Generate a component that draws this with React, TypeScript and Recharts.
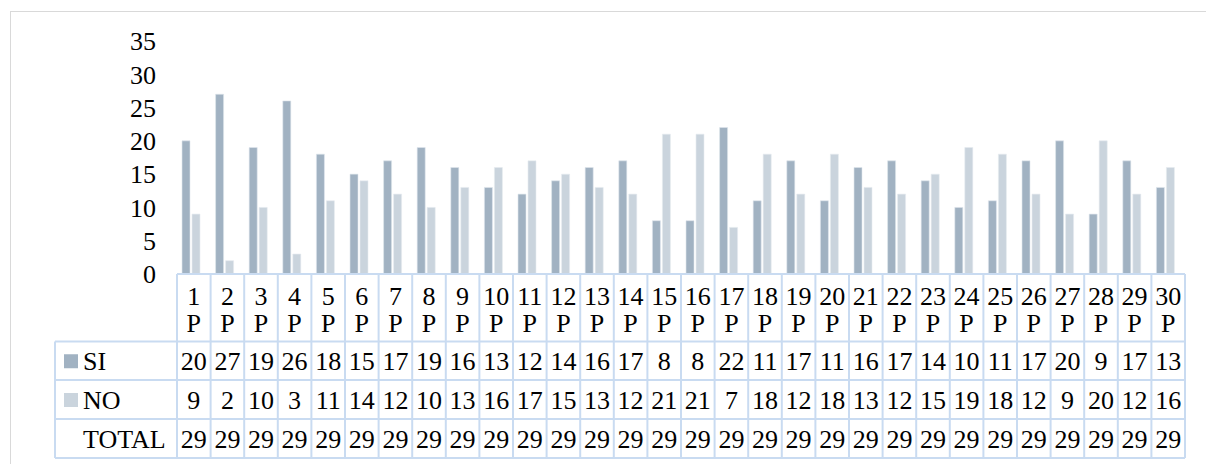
import React from "react";
import { BarChart, Bar, XAxis, YAxis } from "recharts";

const CATEGORIES = [
  "1 P", "2 P", "3 P", "4 P", "5 P", "6 P", "7 P", "8 P", "9 P", "10 P",
  "11 P", "12 P", "13 P", "14 P", "15 P", "16 P", "17 P", "18 P", "19 P", "20 P",
  "21 P", "22 P", "23 P", "24 P", "25 P", "26 P", "27 P", "28 P", "29 P", "30 P",
];
const SI = [20, 27, 19, 26, 18, 15, 17, 19, 16, 13, 12, 14, 16, 17, 8, 8, 22, 11, 17, 11, 16, 17, 14, 10, 11, 17, 20, 9, 17, 13];
const NO = [9, 2, 10, 3, 11, 14, 12, 10, 13, 16, 17, 15, 13, 12, 21, 21, 7, 18, 12, 18, 13, 12, 15, 19, 18, 12, 9, 20, 12, 16];
const TOTAL = [29, 29, 29, 29, 29, 29, 29, 29, 29, 29, 29, 29, 29, 29, 29, 29, 29, 29, 29, 29, 29, 29, 29, 29, 29, 29, 29, 29, 29, 29];
const Y_TICKS = [0, 5, 10, 15, 20, 25, 30, 35];

const SI_COLOR = "#a1b2c2";
const NO_COLOR = "#cad4dd";
const GRID = "#c9dbf1";
const FONT = "Times New Roman, Liberation Serif, DejaVu Serif, serif";

const W = 1206;
const H = 464;

// data table geometry
const TBL_X0 = 177;
const TBL_X1 = 1185;
const LEFT_X = 55;
const ROWS_Y = [274, 341.5, 380, 419, 458];

const data = CATEGORIES.map((name, i) => ({ name, si: SI[i], no: NO[i] }));

const txt = { fontFamily: FONT, fontSize: 26 };

function DataTable() {
  const n = CATEGORIES.length;
  const cw = (TBL_X1 - TBL_X0) / n;
  const rows = [
    { label: "SI", color: SI_COLOR, values: SI },
    { label: "NO", color: NO_COLOR, values: NO },
    { label: "TOTAL", color: null, values: TOTAL },
  ];
  return (
    <svg width={W} height={H} style={{ position: "absolute", left: 0, top: 0 }}>
      {/* horizontal rules */}
      <line x1={TBL_X0} x2={TBL_X1} y1={ROWS_Y[0]} y2={ROWS_Y[0]} stroke={GRID} strokeWidth={2} />
      {ROWS_Y.slice(1).map((y) => (
        <line key={y} x1={LEFT_X} x2={TBL_X1} y1={y} y2={y} stroke={GRID} strokeWidth={2} />
      ))}
      {/* vertical rules */}
      <line x1={LEFT_X} x2={LEFT_X} y1={ROWS_Y[1]} y2={ROWS_Y[4]} stroke={GRID} strokeWidth={2} />
      {Array.from({ length: n + 1 }, (_, i) => (
        <line
          key={i}
          x1={TBL_X0 + i * cw}
          x2={TBL_X0 + i * cw}
          y1={ROWS_Y[0]}
          y2={ROWS_Y[4]}
          stroke={GRID}
          strokeWidth={2}
        />
      ))}
      {/* category header */}
      {CATEGORIES.map((c, i) => {
        const [num, suf] = c.split(" ");
        const cx = TBL_X0 + (i + 0.5) * cw;
        return (
          <g key={c} style={txt} fill="#000" textAnchor="middle">
            <text x={cx} y={305}>{num}</text>
            <text x={cx} y={332}>{suf}</text>
          </g>
        );
      })}
      {/* series rows */}
      {rows.map((r, ri) => {
        const top = ROWS_Y[ri + 1];
        const bot = ROWS_Y[ri + 2];
        const mid = (top + bot) / 2;
        const base = mid + 9;
        return (
          <g key={r.label} style={txt} fill="#000">
            {r.color && <rect x={64} y={mid - 6.5} width={14} height={14} fill={r.color} />}
            <text x={83} y={base}>{r.label}</text>
            {r.values.map((v, i) => (
              <text key={i} x={TBL_X0 + (i + 0.5) * cw} y={base} textAnchor="middle">
                {v}
              </text>
            ))}
          </g>
        );
      })}
    </svg>
  );
}

export default function App() {
  return (
    <div
      style={{
        position: "fixed",
        left: 0,
        top: 0,
        width: W,
        height: H,
        overflow: "hidden",
        background: "#fff",
        fontFamily: FONT,
      }}
    >
      <div
        style={{
          position: "absolute",
          left: 10,
          top: 11,
          width: W + 40,
          height: H + 40,
          borderTop: "1.5px solid #d9d9d9",
          borderLeft: "1.5px solid #d9d9d9",
        }}
      />
      <div style={{ position: "absolute", left: 0, top: 0 }}>
        <BarChart
          width={W}
          height={H}
          data={data}
          margin={{ top: 41, right: W - 1182, bottom: H - 274, left: 114 }}
          barGap={2}
          barSize={8}
        >
          <XAxis dataKey="name" hide />
          <YAxis
            width={60}
            domain={[0, 35]}
            ticks={Y_TICKS}
            interval={0}
            axisLine={false}
            tickLine={false}
            tickSize={0}
            tickMargin={18}
            tick={{ style: txt, fill: "#000" }}
          />
          <Bar dataKey="si" name="SI" fill={SI_COLOR} stroke="#dfe6ec" strokeWidth={0.6} isAnimationActive={false} />
          <Bar dataKey="no" name="NO" fill={NO_COLOR} stroke="#e6ebf0" strokeWidth={0.6} isAnimationActive={false} />
        </BarChart>
      </div>
      <DataTable />
    </div>
  );
}
